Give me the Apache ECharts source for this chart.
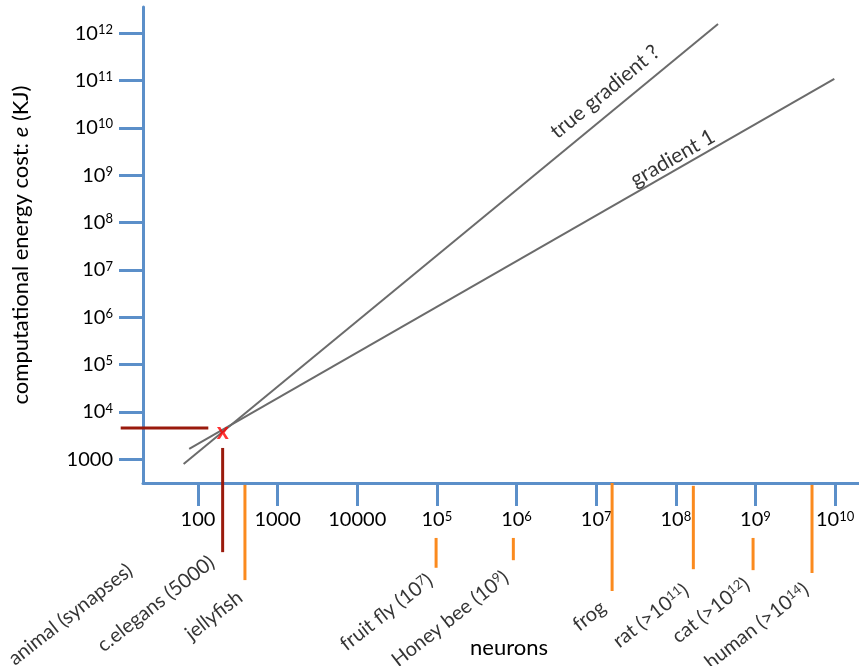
<!DOCTYPE html>
<html><head><meta charset="utf-8">
<script src="https://cdn.jsdelivr.net/npm/echarts@6/dist/echarts.min.js"></script>
<style>html,body{margin:0;padding:0;background:#fff}#c{width:859px;height:666px}</style>
</head><body><div id="c"></div>
<script>
// All coordinates are log10 values (log-log chart)
const xTickExponents = [2, 3, 4, 5, 6, 7, 8, 9, 10];
const xTickLabels = ['100', '1000', '10000', '10{s|5}', '10{s|6}', '10{s|7}', '10{s|8}', '10{s|9}', '10{s|10}'];
const yTickExponents = [3, 4, 5, 6, 7, 8, 9, 10, 11, 12];
const yTickLabels = ['1000', '10{s|4}', '10{s|5}', '10{s|6}', '10{s|7}', '10{s|8}', '10{s|9}', '10{s|10}', '10{s|11}', '10{s|12}'];
const xRangeLog = [1.31, 10.3];
const yRangeLog = [2.5, 12.55];

const trueGradientLine = [[1.82, 2.90], [8.53, 12.19]];
const gradient1Line = [[1.89, 3.22], [9.99, 11.03]];
const gradientNames = ['true gradient ?', 'gradient 1'];
const gradientLabelAt = [[7.11, 10.76], [7.96, 9.36]];

const cElegansMark = [2.31, 3.58];
const cElegansGuideH = [[1.03, 3.66], [2.13, 3.66]];
const cElegansGuideV = [[2.31, 3.24], [2.31, 1.04]];

const animalLogX = [2.59, 4.99, 5.96, 7.20, 8.22, 8.97, 9.71];
const animalTickTop = [2.46, 1.34, 1.34, 2.50, 2.44, 1.34, 2.46];
const animalTickBottom = [0.45, 0.71, 0.87, 0.22, 0.68, 0.66, 0.60];

const categoryLabels = ['animal (synapses)', 'c.elegans (5000)', 'jellyfish', 'fruit fly (10{s|7})', 'Honey bee (10{s|9})', 'frog', 'rat (>10{s|11})', 'cat (>10{s|12})', 'human (>10{s|14})'];
const labelAnchorX = [1.146, 2.176, 2.528, 4.915, 5.869, 7.088, 8.131, 8.897, 9.638];
const labelAnchorY = [0.705, 0.874, 0.135, 0.494, 0.557, -0.077, 0.282, 0.409, 0.303];

const FONT = 'Lato';
const AXIS_BLUE = '#5b8fc9';
const GRAY = '#6b6b6b';
const DARK_RED = '#9a1a0c';
const ORANGE = '#fb8a1e';
const supRich = { s: { fontSize: 13, verticalAlign: 'top', fontFamily: FONT, color: '#000' } };

// segments drawn through the library's coordinate system (custom series, unclipped)
const segments = [];
segments.push({ pts: trueGradientLine, color: GRAY, width: 2 });
segments.push({ pts: gradient1Line, color: GRAY, width: 2 });
segments.push({ pts: cElegansGuideH, color: DARK_RED, width: 3 });
segments.push({ pts: cElegansGuideV, color: DARK_RED, width: 3 });
animalLogX.forEach((x, i) => {
  segments.push({ pts: [[x, animalTickTop[i]], [x, animalTickBottom[i]]], color: ORANGE, width: 3 });
});

const series = [];
series.push({
  type: 'custom', coordinateSystem: 'cartesian2d', clip: false, silent: true, z: 3,
  data: segments.map((s, i) => [s.pts[0][0], s.pts[0][1], s.pts[1][0], s.pts[1][1], i]),
  encode: { x: [0, 2], y: [1, 3] },
  renderItem: function (params, api) {
    const s = segments[params.dataIndex];
    const p1 = api.coord([api.value(0), api.value(1)]);
    const p2 = api.coord([api.value(2), api.value(3)]);
    return { type: 'line', shape: { x1: p1[0], y1: p1[1], x2: p2[0], y2: p2[1] },
      style: { stroke: s.color, lineWidth: s.width } };
  }
});
// red x marker
series.push({ type: 'scatter', clip: false, silent: true, symbolSize: 0, data: [cElegansMark],
  label: { show: true, position: [0, 0], align: 'center', verticalAlign: 'middle', formatter: 'x',
    color: '#ff0000', fontSize: 23, fontWeight: 'bold', fontFamily: FONT }, z: 5 });
// gradient labels
const gradAngles = [39.5, 29.8];
gradientNames.forEach((n, i) => {
  series.push({ type: 'scatter', clip: false, silent: true, symbolSize: 0,
    data: [{ name: n, value: gradientLabelAt[i] }],
    label: { show: true, position: [0, 0], align: 'center', verticalAlign: 'middle', rotate: gradAngles[i],
      formatter: '{b}', color: '#000', fontSize: 21, fontFamily: FONT }, z: 5 });
});
// category labels under the axis
series.push({ type: 'scatter', clip: false, silent: true, symbolSize: 0,
  data: categoryLabels.map((t, i) => ({ name: t, value: [labelAnchorX[i], labelAnchorY[i]] })),
  label: { show: true, position: [0, 0], align: 'right', verticalAlign: 'middle', rotate: 38,
    formatter: '{b}', color: '#000', fontSize: 20, fontFamily: FONT, rich: supRich }, z: 5 });

const chart = echarts.init(document.getElementById('c'), null, { renderer: 'canvas' });
chart.setOption({
  animation: false,
  backgroundColor: '#fff',
  grid: { left: 143, top: 7, right: 0, bottom: 183, containLabel: false, outerBoundsMode: 'none' },
  xAxis: {
    type: 'value', min: xRangeLog[0], max: xRangeLog[1],
    splitLine: { show: false },
    axisLine: { show: true, lineStyle: { color: AXIS_BLUE, width: 3 } },
    axisTick: { show: true, customValues: xTickExponents, length: 23, lineStyle: { color: AXIS_BLUE, width: 3 } },
    axisLabel: { show: true, customValues: xTickExponents, margin: 27, color: '#000', fontSize: 20, fontFamily: FONT,
      formatter: v => xTickLabels[xTickExponents.indexOf(Math.round(v))], rich: supRich },
    name: 'neurons', nameLocation: 'middle', nameGap: 154,
    nameTextStyle: { color: '#000', fontSize: 22, fontFamily: FONT, padding: [0, 0, 0, 16] }
  },
  yAxis: {
    type: 'value', min: yRangeLog[0], max: yRangeLog[1],
    splitLine: { show: false },
    axisLine: { show: true, lineStyle: { color: AXIS_BLUE, width: 3 } },
    axisTick: { show: true, customValues: yTickExponents, length: 24, lineStyle: { color: AXIS_BLUE, width: 3 } },
    axisLabel: { show: true, customValues: yTickExponents, margin: 30, color: '#000', fontSize: 20, fontFamily: FONT,
      formatter: v => yTickLabels[yTickExponents.indexOf(Math.round(v))], rich: supRich },
    name: 'computational energy cost: {i|e} (KJ)', nameLocation: 'middle', nameGap: 105, nameRotate: 90,
    nameTextStyle: { color: '#000', fontSize: 22, fontFamily: FONT, padding: [0, 0, 6, 0],
      rich: { i: { fontStyle: 'italic', fontSize: 22, fontFamily: FONT, color: '#000' } } }
  },
  series: series
});
</script></body></html>
